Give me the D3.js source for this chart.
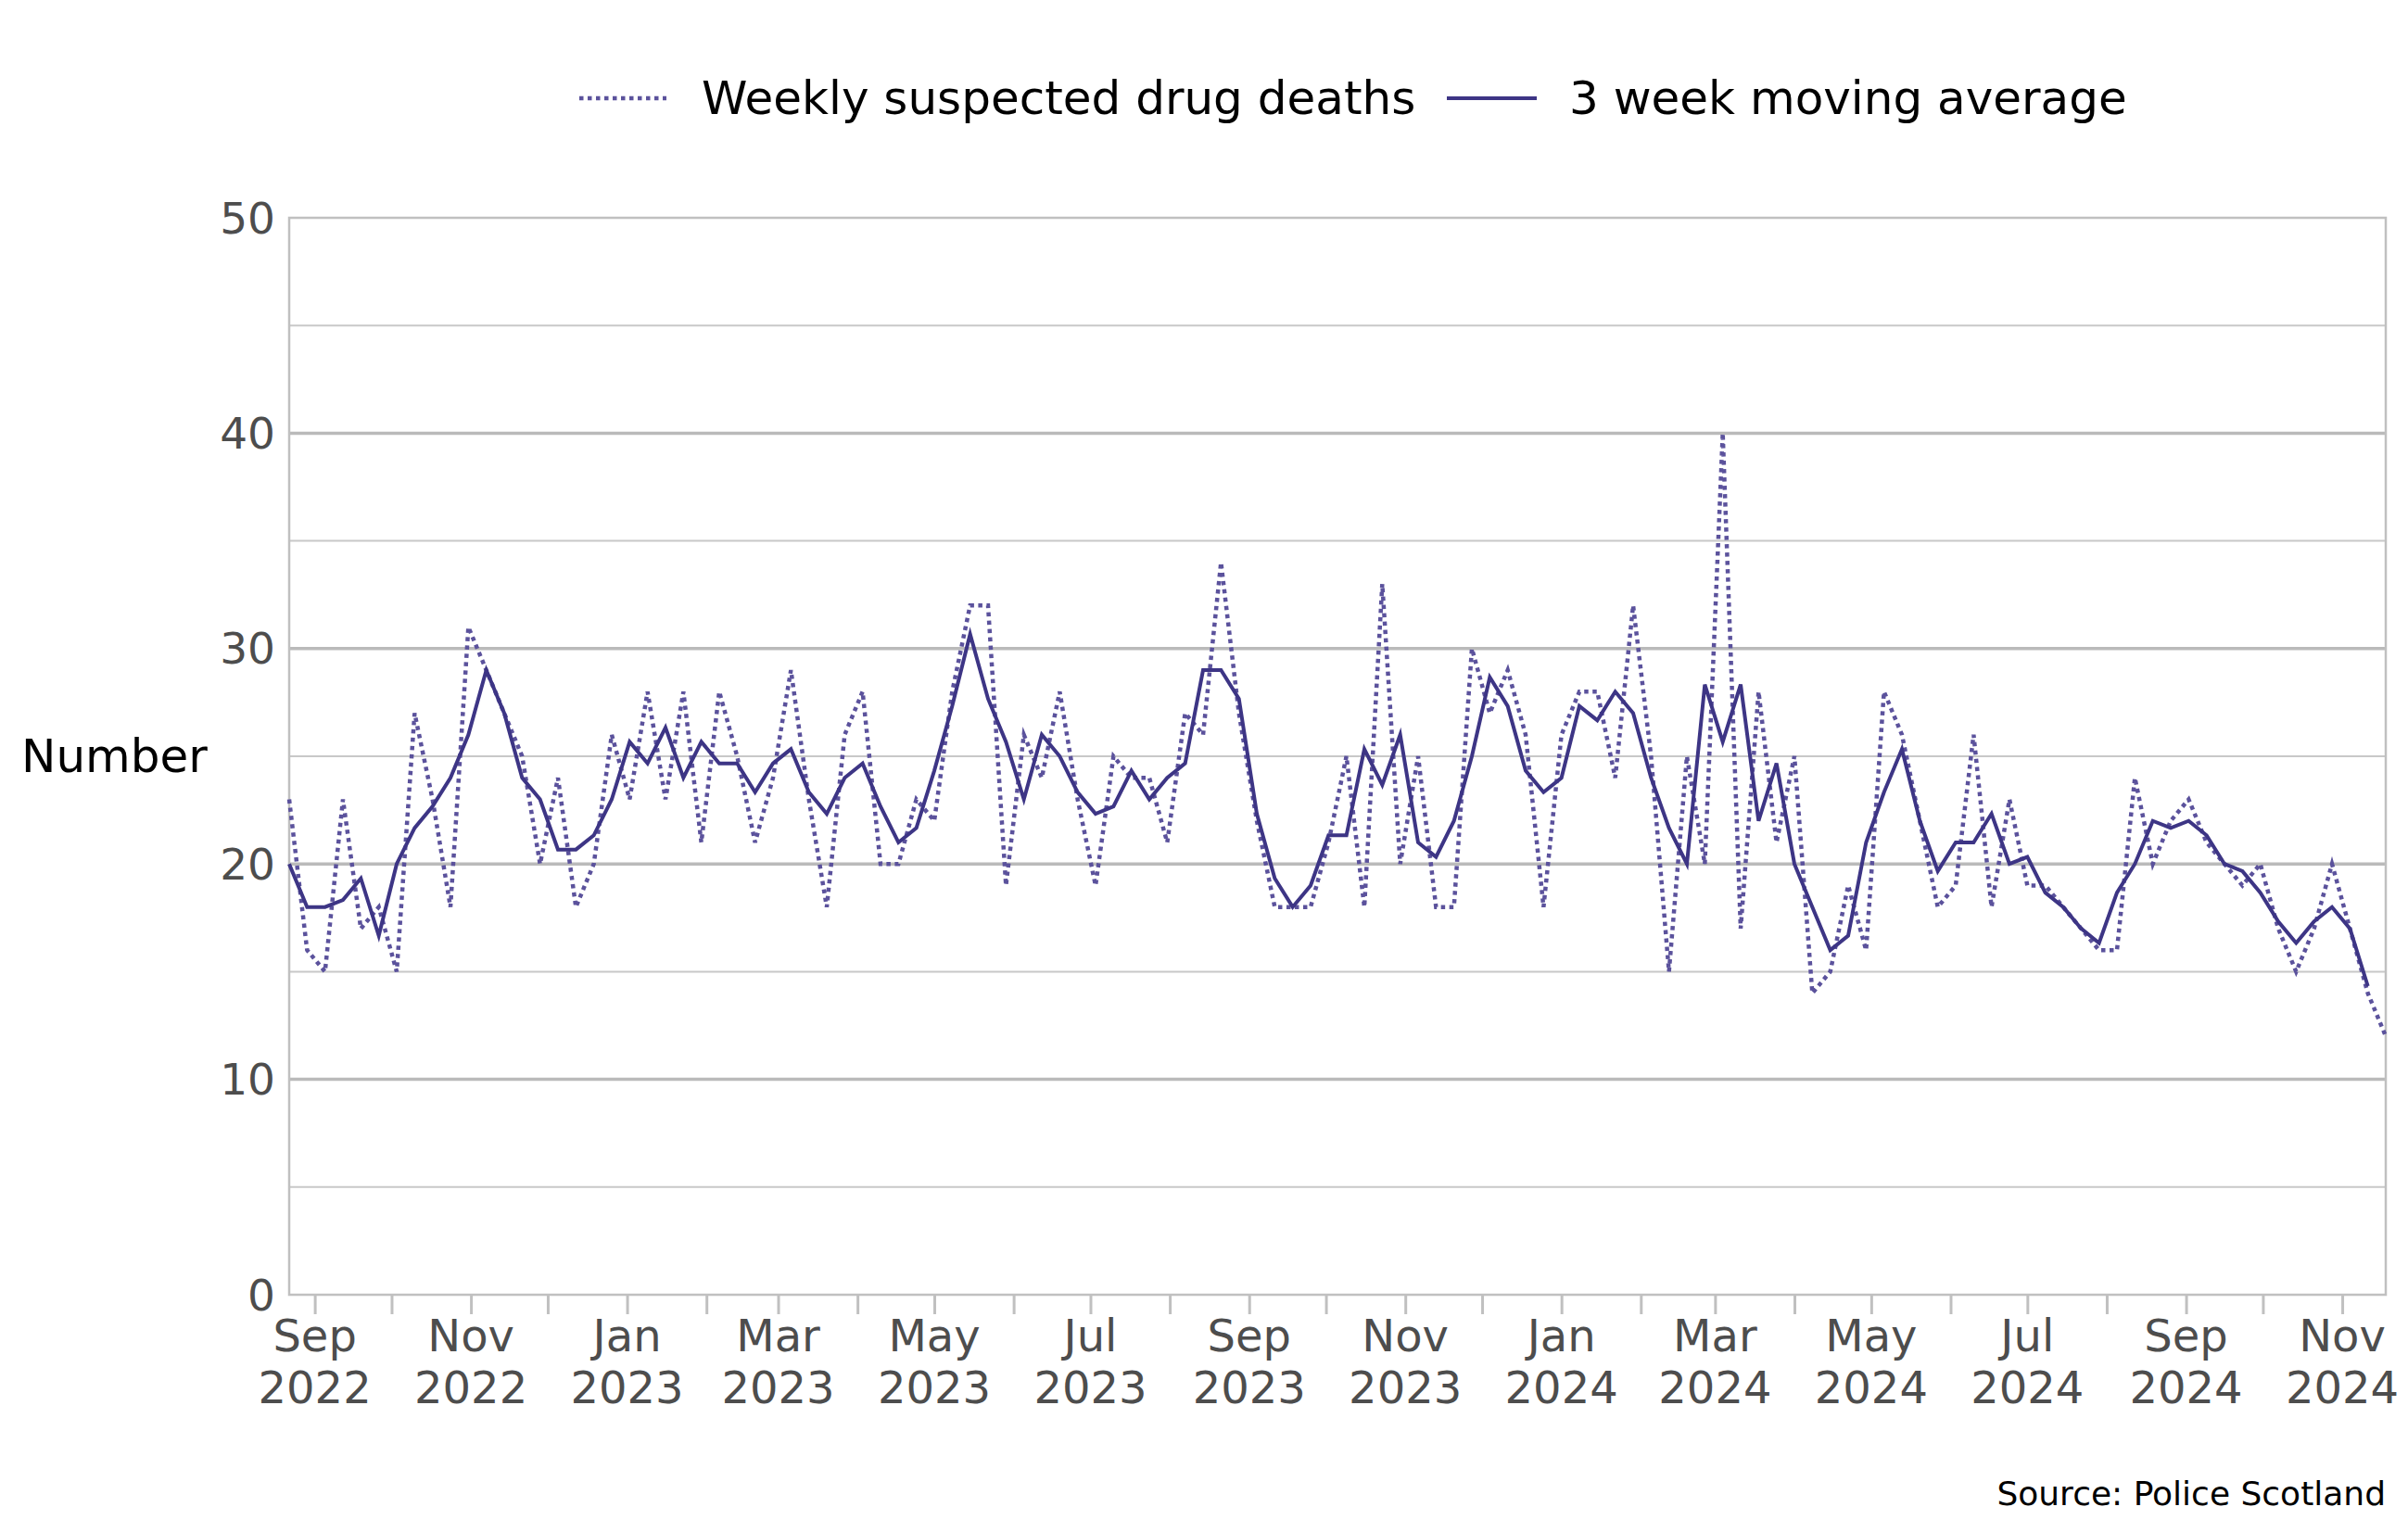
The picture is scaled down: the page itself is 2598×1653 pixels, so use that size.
<!DOCTYPE html>
<html>
<head>
<meta charset="utf-8">
<script src="https://d3js.org/d3.v7.min.js"></script>
<style>
  body { margin: 0; background: #fff; }
  text { font-family: "DejaVu Sans", sans-serif; }
</style>
</head>
<body>
<div id="chart"></div>
<script>

// weekly suspected drug deaths (first week starting 22 Aug 2022)
const firstWeek = "2022-08-22";
const weekly = [
  23, 16, 15, 23, 17, 18, 15, 27, 23, 18, 31, 29, 27, 25, 20, 24, 18, 20, 26, 23,
  28, 23, 28, 21, 28, 25, 21, 24, 29, 23, 18, 26, 28, 20, 20, 23, 22, 28, 32, 32,
  19, 26, 24, 28, 23, 19, 25, 24, 24, 21, 27, 26, 34, 27, 22, 18, 18, 18, 21, 25,
  18, 33, 20, 25, 18, 18, 30, 27, 29, 26, 18, 26, 28, 28, 24, 32, 25, 15, 25, 20,
  40, 17, 28, 21, 25, 14, 15, 19, 16, 28, 26, 22, 18, 19, 26, 18, 23, 19, 19, 18,
  17, 16, 16, 24, 20, 22, 23, 21, 20, 19, 20, 17, 15, 17, 20, 17, 14, 12
];
// 3 week moving average (last week has no value drawn)
const movingAvg = [
  20.0, 18.0, 18.0, 18.33, 19.33, 16.67, 20.0, 21.67, 22.67, 24.0, 26.0, 29.0, 27.0, 24.0, 23.0, 20.67, 20.67, 21.33, 23.0, 25.67,
  24.67, 26.33, 24.0, 25.67, 24.67, 24.67, 23.33, 24.67, 25.33, 23.33, 22.33, 24.0, 24.67, 22.67, 21.0, 21.67, 24.33, 27.33, 30.67, 27.67,
  25.67, 23.0, 26.0, 25.0, 23.33, 22.33, 22.67, 24.33, 23.0, 24.0, 24.67, 29.0, 29.0, 27.67, 22.33, 19.33, 18.0, 19.0, 21.33, 21.33,
  25.33, 23.67, 26.0, 21.0, 20.33, 22.0, 25.0, 28.67, 27.33, 24.33, 23.33, 24.0, 27.33, 26.67, 28.0, 27.0, 24.0, 21.67, 20.0, 28.33,
  25.67, 28.33, 22.0, 24.67, 20.0, 18.0, 16.0, 16.67, 21.0, 23.33, 25.33, 22.0, 19.67, 21.0, 21.0, 22.33, 20.0, 20.33, 18.67, 18.0,
  17.0, 16.33, 18.67, 20.0, 22.0, 21.67, 22.0, 21.33, 20.0, 19.67, 18.67, 17.33, 16.33, 17.33, 18.0, 17.0, 14.33
];
const seriesNames = ["Weekly suspected drug deaths", "3 week moving average"];
const yTicks = [0, 10, 20, 30, 40, 50];
const yMinorTicks = [5, 15, 25, 35, 45];
const xLabels = ["Sep 2022", "Nov 2022", "Jan 2023", "Mar 2023", "May 2023", "Jul 2023", "Sep 2023",
                 "Nov 2023", "Jan 2024", "Mar 2024", "May 2024", "Jul 2024", "Sep 2024", "Nov 2024"];

const width = 2598, height = 1653;
const margin = {top: 235, right: 24, bottom: 256, left: 312};
const lineColor = "#3d3585", dotColor = "#5b529c", gridColor = "#c0c0c0", labelColor = "#4d4d4d";

const svg = d3.select("#chart")
  .append("svg")
    .attr("width", width)
    .attr("height", height);

svg.append("rect").attr("width", width).attr("height", height).attr("fill", "#fff");

const start = d3.timeParse("%Y-%m-%d")(firstWeek);
const dates = weekly.map((d, i) => d3.timeWeek.offset(start, i));

const x = d3.scaleTime()
  .domain([dates[0], dates[dates.length - 1]])
  .range([margin.left, width - margin.right]);
const y = d3.scaleLinear()
  .domain([0, 50])
  .range([height - margin.bottom, margin.top]);

// gridlines
svg.append("g")
  .selectAll("line")
  .data(yMinorTicks)
  .join("line")
    .attr("x1", margin.left).attr("x2", width - margin.right)
    .attr("y1", d => y(d)).attr("y2", d => y(d))
    .attr("stroke", "#c8c8c8").attr("stroke-width", 2);
svg.append("g")
  .selectAll("line")
  .data(yTicks.filter(d => d > 0 && d < 50))
  .join("line")
    .attr("x1", margin.left).attr("x2", width - margin.right)
    .attr("y1", d => y(d)).attr("y2", d => y(d))
    .attr("stroke", "#bababa").attr("stroke-width", 3.5);

// frame
svg.append("rect")
  .attr("x", margin.left).attr("y", margin.top)
  .attr("width", width - margin.right - margin.left)
  .attr("height", height - margin.bottom - margin.top)
  .attr("fill", "none").attr("stroke", gridColor).attr("stroke-width", 2.5);

// y labels
svg.append("g")
  .selectAll("text")
  .data(yTicks)
  .join("text")
    .attr("x", margin.left - 15)
    .attr("y", d => y(d))
    .attr("text-anchor", "end")
    .attr("dominant-baseline", "central")
    .attr("fill", labelColor)
    .style("font-size", "47px")
    .text(d => d);

svg.append("text")
  .attr("x", 23)
  .attr("y", (y(0) + y(50)) / 2)
  .attr("dominant-baseline", "central")
  .style("font-size", "50px")
  .text("Number");

// month ticks
const xAxis = svg.append("g")
  .attr("transform", `translate(0,${y(0)})`)
  .call(d3.axisBottom(x).ticks(d3.timeMonth.every(1)).tickSize(21).tickSizeOuter(0).tickFormat(""));
xAxis.select(".domain").remove();
xAxis.selectAll(".tick line").attr("stroke", gridColor).attr("stroke-width", 3);

const parseLabel = d3.timeParse("%b %Y");
const xLab = svg.append("g")
  .selectAll("text")
  .data(xLabels)
  .join("text")
    .attr("text-anchor", "middle")
    .attr("fill", labelColor)
    .style("font-size", "48px");
xLab.append("tspan")
  .attr("x", d => x(parseLabel(d)))
  .attr("y", 1458)
  .text(d => d.split(" ")[0]);
xLab.append("tspan")
  .attr("x", d => x(parseLabel(d)))
  .attr("y", 1514)
  .text(d => d.split(" ")[1]);

// lines
const line = d3.line()
  .x((d, i) => x(dates[i]))
  .y(d => y(d));

svg.append("path")
  .datum(weekly)
  .attr("d", line)
  .attr("fill", "none")
  .attr("stroke", dotColor)
  .attr("stroke-width", 4.5)
  .attr("stroke-dasharray", "4.5,4.5");

svg.append("path")
  .datum(movingAvg)
  .attr("d", line)
  .attr("fill", "none")
  .attr("stroke", lineColor)
  .attr("stroke-width", 4)
  .attr("stroke-linejoin", "miter");

// legend
const legendY = 106;
svg.append("line")
  .attr("x1", 625).attr("x2", 719).attr("y1", legendY).attr("y2", legendY)
  .attr("stroke", dotColor).attr("stroke-width", 4.5).attr("stroke-dasharray", "4.5,4.5");
svg.append("text")
  .attr("x", 757).attr("y", legendY)
  .attr("dominant-baseline", "central")
  .style("font-size", "50px")
  .text(seriesNames[0]);
svg.append("line")
  .attr("x1", 1561).attr("x2", 1658).attr("y1", legendY).attr("y2", legendY)
  .attr("stroke", lineColor).attr("stroke-width", 4);
svg.append("text")
  .attr("x", 1693).attr("y", legendY)
  .attr("dominant-baseline", "central")
  .style("font-size", "50px")
  .text(seriesNames[1]);

// source
svg.append("text")
  .attr("x", width - margin.right)
  .attr("y", 1624)
  .attr("text-anchor", "end")
  .style("font-size", "36px")
  .text("Source: Police Scotland");

</script>
</body>
</html>
